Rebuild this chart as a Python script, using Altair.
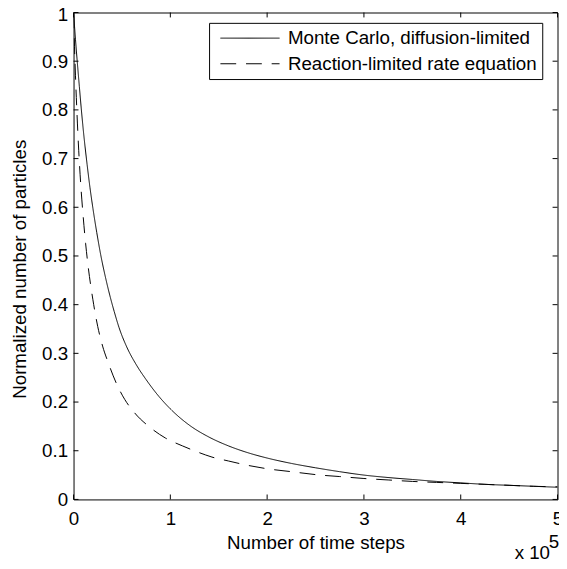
import altair as alt
import pandas as pd

# Monte Carlo, diffusion-limited (x in units of 1e5 time steps)
mc_x = [0, 0.01, 0.02, 0.04, 0.06, 0.08, 0.10, 0.14, 0.17, 0.20, 0.24, 0.28, 0.33, 0.38, 0.42,
        0.47, 0.55, 0.65, 0.75, 0.88, 1.0, 1.2, 1.4, 1.6, 1.8, 2.0, 2.25, 2.5, 2.75, 3.0, 3.25,
        3.5, 3.75, 4.0, 4.25, 4.5, 4.75, 5.0]
mc_y = [1.0, 0.972, 0.945, 0.895, 0.848, 0.802, 0.76, 0.688, 0.64, 0.598, 0.548, 0.503, 0.456,
        0.415, 0.386, 0.353, 0.313, 0.276, 0.246, 0.212, 0.186, 0.152, 0.128, 0.110, 0.096, 0.085,
        0.074, 0.065, 0.057, 0.050, 0.045, 0.041, 0.037, 0.034, 0.031, 0.029, 0.027, 0.025]

# Reaction-limited rate equation
rl_x = [0, 0.005, 0.01, 0.02, 0.035, 0.05, 0.075, 0.10, 0.125, 0.15, 0.20, 0.25, 0.30, 0.36,
        0.45, 0.53, 0.63, 0.79, 0.95, 1.125, 1.3, 1.43, 1.6, 1.8, 2.0, 2.25, 2.55, 2.75, 3.0,
        3.25, 3.5, 3.75, 4.0, 4.25, 4.5, 4.75, 5.0]
rl_y = [1.0, 0.965, 0.93, 0.87, 0.795, 0.73, 0.645, 0.58, 0.525, 0.48, 0.41, 0.355, 0.315, 0.28,
        0.235, 0.205, 0.178, 0.148, 0.126, 0.11, 0.096, 0.087, 0.079, 0.07, 0.063, 0.057, 0.05,
        0.047, 0.043, 0.040, 0.037, 0.035, 0.033, 0.031, 0.029, 0.027, 0.026]

series_names = ["Monte Carlo, diffusion-limited", "Reaction-limited rate equation"]
x_ticks = [0, 1, 2, 3, 4, 5]
y_ticks = [0, 0.1, 0.2, 0.3, 0.4, 0.5, 0.6, 0.7, 0.8, 0.9, 1.0]

FONT = "Liberation Sans"
FS = 19
W, H, TICK = 491, 494, 5

df = pd.concat([
    pd.DataFrame({"x": mc_x, "y": mc_y, "series": series_names[0]}),
    pd.DataFrame({"x": rl_x, "y": rl_y, "series": series_names[1]}),
])

xscale = alt.Scale(domain=[0, 5], nice=False, zero=False)
yscale = alt.Scale(domain=[0, 1], nice=False, zero=False)

lines = alt.Chart(df).mark_line(color="black", strokeWidth=1, clip=True,
                                interpolate="monotone").encode(
    x=alt.X("x:Q", scale=xscale,
            axis=alt.Axis(values=x_ticks, format="d", title="Number of time steps",
                          labelPadding=10.5, labelFlush=False,
                          titleBaseline="alphabetic", titleY=49.5)),
    y=alt.Y("y:Q", scale=yscale,
            axis=alt.Axis(values=y_ticks, format="~g", title="Normalized number of particles",
                          labelPadding=6, labelFlush=False,
                          labelOffset={"condition": {"test": "datum.value == 1", "value": 2},
                                       "value": 0},
                          titleBaseline="alphabetic",
                          titleX=-48.5, titleY=260, titleAngle=270)),
    strokeDash=alt.StrokeDash(
        "series:N",
        scale=alt.Scale(domain=series_names, range=[[1, 0], [16, 10]]),
        legend=alt.Legend(title=None, orient="none", legendX=137.5, legendY=10.5,
                          strokeColor="black", fillColor="white", padding=5,
                          labelFont=FONT, labelFontSize=FS, labelColor="black",
                          labelLimit=600,
                          symbolType="M-3,0H3", symbolSize=400, symbolStrokeWidth=1,
                          symbolStrokeColor="black", rowPadding=5, symbolOffset=26,
                          labelOffset=28, cornerRadius=0),
    ),
)

xt_df = pd.DataFrame({"x": x_ticks})
yt_df = pd.DataFrame({"y": y_ticks})

tick_bottom = alt.Chart(xt_df).mark_rule(color="black", strokeWidth=1).encode(
    x="x:Q", y=alt.value(H), y2=alt.value(H - TICK))
tick_top = alt.Chart(xt_df).mark_rule(color="black", strokeWidth=1).encode(
    x="x:Q", y=alt.value(0), y2=alt.value(TICK))
tick_left = alt.Chart(yt_df).mark_rule(color="black", strokeWidth=1).encode(
    y="y:Q", x=alt.value(0), x2=alt.value(TICK))
tick_right = alt.Chart(yt_df).mark_rule(color="black", strokeWidth=1).encode(
    y="y:Q", x=alt.value(W), x2=alt.value(W - TICK))

xten = alt.Chart(pd.DataFrame({"t": ["x 10"]})).mark_text(
    align="left", baseline="alphabetic", font=FONT, fontSize=FS, color="black"
).encode(x=alt.value(447.5), y=alt.value(554.5), text="t:N")
sup = alt.Chart(pd.DataFrame({"t": ["5"]})).mark_text(
    align="left", baseline="alphabetic", font=FONT, fontSize=FS, color="black"
).encode(x=alt.value(482), y=alt.value(543.5), text="t:N")

chart = alt.layer(lines, tick_bottom, tick_top, tick_left, tick_right, xten, sup).properties(
    width=W, height=H,
    autosize=alt.AutoSizeParams(type="none"),
    padding={"left": 66.5, "top": 0.5, "right": 1.5, "bottom": 66.5},
    background="white",
).configure_axis(
    labelFont=FONT, labelFontSize=FS, labelColor="black",
    titleFont=FONT, titleFontSize=FS, titleFontWeight="normal", titleColor="black",
    ticks=False, domain=False, grid=False,
).configure_view(stroke="black", strokeWidth=1)

chart.save("out.html", embed_options={"renderer": "svg", "actions": False})
